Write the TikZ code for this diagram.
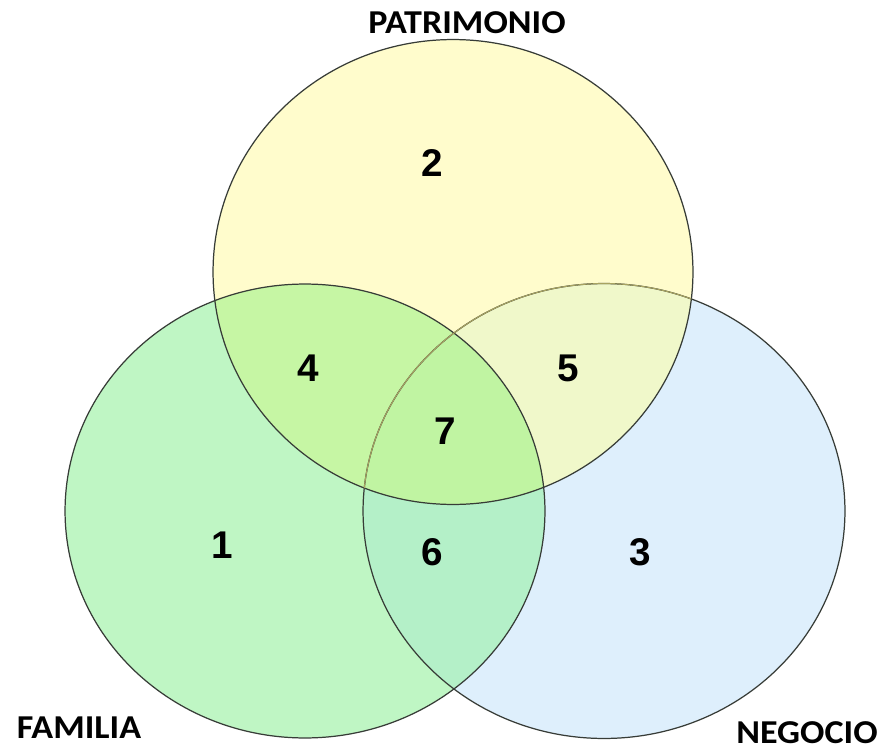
\documentclass[tikz,border=0pt]{standalone}
\usepackage{fontspec}
\newfontfamily\labelfont{Carlito}
\newfontfamily\numfont{Liberation Sans}

\definecolor{patriyellow}{RGB}{255,252,204}
\definecolor{famigreen}{RGB}{191,246,196}
\definecolor{negoblue}{RGB}{222,239,252}
\definecolor{pfgreen}{RGB}{198,246,164}
\definecolor{pnyellow}{RGB}{240,248,202}
\definecolor{fnmint}{RGB}{180,240,200}
\definecolor{allgreen}{RGB}{192,244,162}
\definecolor{rim}{RGB}{55,60,55}

\tikzset{
  num/.style={font=\numfont\bfseries\fontsize{22}{24}\selectfont},
  setlabel/.style={font=\labelfont\bfseries\fontsize{19}{21}\selectfont}
}

\def\patri{(453,272) ellipse [x radius=4.8cm, y radius=4.65cm]}
\def\fami{(305,511) ellipse [x radius=4.8cm, y radius=4.54cm]}
\def\nego{(604,511) ellipse [x radius=4.82cm, y radius=4.55cm]}

\begin{document}
\begin{tikzpicture}[x=0.02cm,y=-0.02cm]
\useasboundingbox (0,0) rectangle (882,750);
\fill[white] (0,0) rectangle (882,750);

% single sets
\fill[patriyellow] \patri;
\fill[negoblue] \nego;
\fill[famigreen] \fami;

% overlaps
\begin{scope}
  \clip \patri;
  \fill[pfgreen] \fami;
  \fill[pnyellow] \nego;
\end{scope}
\begin{scope}
  \clip \fami;
  \fill[fnmint] \nego;
\end{scope}
\begin{scope}
  \clip \patri;
  \clip \fami;
  \fill[allgreen] \nego;
\end{scope}

% outlines
\draw[rim, line width=0.7pt] \patri;
\draw[rim, line width=0.7pt] \fami;
\draw[rim, line width=0.7pt] \nego;
\begin{scope}
  \clip \patri;
  \draw[black!30!olive!60, line width=0.6pt] \nego;
\end{scope}

% region numbers
\node[num] (n1) at (222,545) {1};
\node[num] (n2) at (432,163) {2};
\node[num] (n3) at (640,552) {3};
\node[num] (n4) at (308,368) {4};
\node[num] (n5) at (568,368) {5};
\node[num] (n6) at (432,552) {6};
\node[num] (n7) at (445,431) {7};

% set names
\node[setlabel] (patrimonio) at (467,23) {\scalebox{1.08}[1]{PATRIMONIO}};
\node[setlabel] (familia) at (79,728) {\scalebox{1.08}[1]{FAMILIA}};
\node[setlabel] (negocio) at (807,733) {\scalebox{1.08}[1]{NEGOCIO}};
\end{tikzpicture}
\end{document}
